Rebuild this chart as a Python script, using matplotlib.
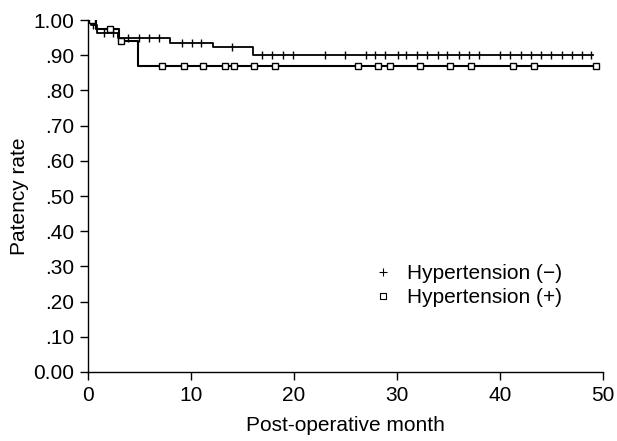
import matplotlib
matplotlib.use("Agg")
import matplotlib.pyplot as plt
import numpy as np

plt.rcParams['font.family'] = ['Liberation Sans', 'DejaVu Sans']

# Hypertension (-): step curve (event times, survival after event)
neg_step_t = [0.0, 0.3, 0.9, 2.9, 8.0, 12.1, 16.0]
neg_step_s = [1.000, 0.987, 0.962, 0.948, 0.936, 0.924, 0.902]
neg_end = 49.0
neg_censor = [0.5, 1.6, 2.4, 3.9, 5.0, 5.9, 6.9, 9.1, 10.1, 11.0, 14.0,
              16.9, 17.9, 18.9, 19.9, 23.0, 25.0, 27.0, 27.9, 28.8, 30.1,
              30.9, 32.0, 32.9, 34.0, 34.9, 36.0, 37.0, 38.0, 40.0, 41.0,
              42.1, 43.0, 44.0, 45.0, 46.0, 47.0, 48.0, 48.9]

# Hypertension (+)
pos_step_t = [0.0, 0.8, 3.0, 4.9]
pos_step_s = [1.000, 0.974, 0.940, 0.870]
pos_end = 49.3
pos_censor = [0.4, 2.1, 3.2, 7.2, 9.3, 11.2, 13.3, 14.2, 16.1, 18.2, 26.2,
              28.2, 29.3, 32.2, 35.2, 37.2, 41.3, 43.3, 49.3]

x_ticks = [0, 10, 20, 30, 40, 50]
y_ticks = [0.0, 0.1, 0.2, 0.3, 0.4, 0.5, 0.6, 0.7, 0.8, 0.9, 1.0]
y_tick_labels = ['0.00', '.10', '.20', '.30', '.40', '.50', '.60', '.70',
                 '.80', '.90', '1.00']
labels = ['Hypertension (\u2212)', 'Hypertension (+)']


def surv_at(times, steps_t, steps_s):
    idx = np.searchsorted(steps_t, times, side='right') - 1
    return np.array(steps_s)[idx]


fig = plt.figure(figsize=(6.17, 4.41), dpi=100)
ax = fig.add_axes([0.1426, 0.1565, 0.977 - 0.1426, 0.798])

fs = 15
# curves
ax.step(neg_step_t + [neg_end], neg_step_s + [neg_step_s[-1]], where='post',
        color='black', lw=1.3)
ax.step(pos_step_t + [pos_end], pos_step_s + [pos_step_s[-1]], where='post',
        color='black', lw=1.5)
ax.plot(neg_censor, surv_at(neg_censor, neg_step_t, neg_step_s), ls='none',
        marker='|', ms=6, mew=1.0, color='black')
ax.plot(pos_censor, surv_at(pos_censor, pos_step_t, pos_step_s), ls='none',
        marker='s', ms=5, mew=1.0, mfc='white', mec='black')

# legend handles
h1, = ax.plot([], [], ls='none', marker='+', ms=6, mew=0.8, color='black')
h2, = ax.plot([], [], ls='none', marker='s', ms=4.5, mew=0.8, mfc='white',
              mec='black')
ax.legend([h1, h2], labels, loc='upper left', bbox_to_anchor=(0.553, 0.306),
          frameon=False, fontsize=fs, handlelength=1.0, handletextpad=0.65,
          labelspacing=0.22, borderpad=0, borderaxespad=0)

ax.set_xlim(0, 50)
ax.set_ylim(0, 1.0)
ax.set_xticks(x_ticks)
ax.set_yticks(y_ticks)
ax.set_yticklabels(y_tick_labels)
ax.spines['top'].set_visible(False)
ax.spines['right'].set_visible(False)
for s in ['left', 'bottom']:
    ax.spines[s].set_linewidth(1.0)
ax.tick_params(direction='out', length=5.8, width=1.0, labelsize=fs, pad=4)
ax.set_xlabel('Post-operative month', fontsize=fs, labelpad=8)
ax.set_ylabel('Patency rate', fontsize=fs, labelpad=3)

fig.savefig('out.png', dpi=100)
